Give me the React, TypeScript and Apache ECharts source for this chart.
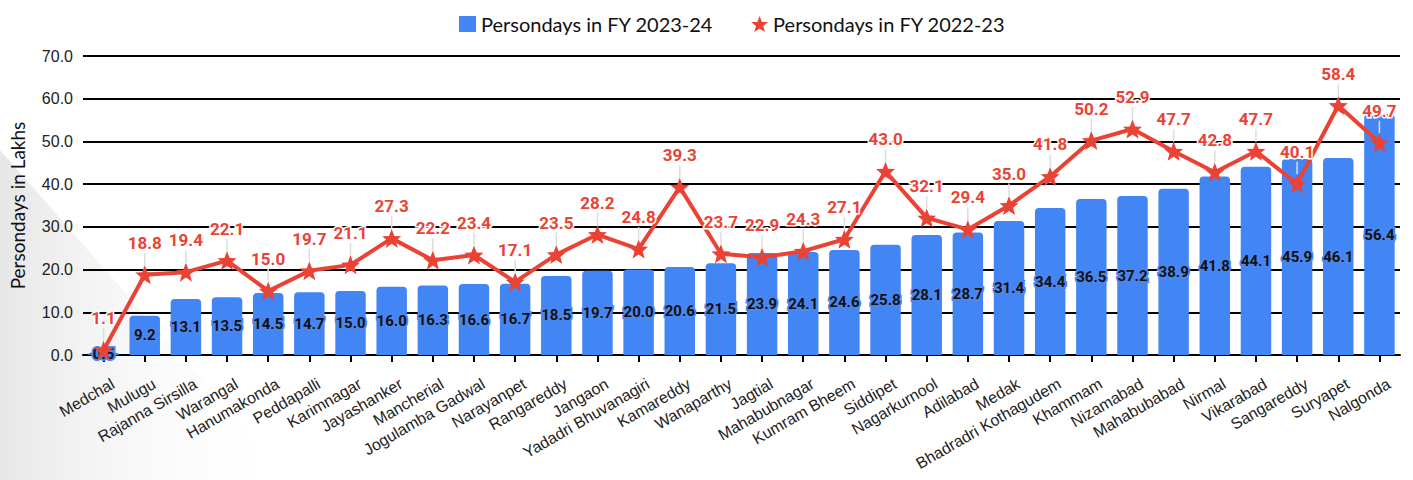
import React, { useEffect, useRef } from "react";
import * as echarts from "echarts";

const categories = [
  "Medchal", "Mulugu", "Rajanna Sirsilla", "Warangal", "Hanumakonda", "Peddapalli",
  "Karimnagar", "Jayashanker", "Mancherial", "Jogulamba Gadwal", "Narayanpet", "Rangareddy",
  "Jangaon", "Yadadri Bhuvanagiri", "Kamareddy", "Wanaparthy", "Jagtial", "Mahabubnagar",
  "Kumram Bheem", "Siddipet", "Nagarkurnool", "Adilabad", "Medak", "Bhadradri Kothagudem",
  "Khammam", "Nizamabad", "Mahabubabad", "Nirmal", "Vikarabad", "Sangareddy", "Suryapet", "Nalgonda",
];

const fy2324 = [
  0.5, 9.2, 13.1, 13.5, 14.5, 14.7, 15.0, 16.0, 16.3, 16.6, 16.7, 18.5, 19.7, 20.0, 20.6, 21.5,
  23.9, 24.1, 24.6, 25.8, 28.1, 28.7, 31.4, 34.4, 36.5, 37.2, 38.9, 41.8, 44.1, 45.9, 46.1, 56.4,
];

const fy2223 = [
  1.1, 18.8, 19.4, 22.1, 15.0, 19.7, 21.1, 27.3, 22.2, 23.4, 17.1, 23.5, 28.2, 24.8, 39.3, 23.7,
  22.9, 24.3, 27.1, 43.0, 32.1, 29.4, 35.0, 41.8, 50.2, 52.9, 47.7, 42.8, 47.7, 40.1, 58.4, 49.7,
];

const seriesNames = ["Persondays in FY 2023-24", "Persondays in FY 2022-23"];
const yAxisName = "Persondays in Lakhs";

const STAR = "path://M12,0.5 L15.2,8.6 L23.5,8.9 L17,14.2 L19.3,22.5 L12,17.8 L4.7,22.5 L7,14.2 L0.5,8.9 L8.8,8.6 Z";

export default function App() {
  const ref = useRef<HTMLDivElement>(null);
  useEffect(() => {
    if (!ref.current) return;
    const chart = echarts.init(ref.current, null, { renderer: "svg" });
    chart.setOption({
      animation: false,
      backgroundColor: "#fff",
      graphic: [
        {
          type: "polygon",
          silent: true,
          z: -10,
          shape: { points: [[0, 150], [290, 480], [0, 480]] },
          style: {
            fill: new echarts.graphic.LinearGradient(0, 0, 1, 0, [
              { offset: 0, color: "rgba(228,228,228,0.9)" },
              { offset: 1, color: "rgba(255,255,255,0)" },
            ]),
          },
        },
      ],
      legend: {
        top: 9,
        left: 454,
        itemGap: 38,
        itemWidth: 17,
        itemHeight: 16,
        textStyle: { fontFamily: "Lato", fontSize: 20, color: "#111" },
        data: [
          { name: seriesNames[0], icon: "rect", itemStyle: { color: "#4285f4" } },
          { name: seriesNames[1], icon: STAR, itemStyle: { color: "#ea4335" } },
        ],
      },
      grid: { left: 83, right: 13, top: 56, bottom: 125, containLabel: false, outerBoundsMode: "none" },
      xAxis: {
        type: "category",
        data: categories,
        axisLine: { lineStyle: { color: "#000", width: 2 } },
        axisTick: { show: true, alignWithLabel: true, length: 7, lineStyle: { color: "#000", width: 2 } },
        axisLabel: {
          interval: 0,
          rotate: 30,
          fontFamily: "Liberation Sans, Arial",
          fontSize: 16,
          color: "#222",
          margin: 11,
          verticalAlign: "top",
          lineHeight: 38,
        },
      },
      yAxis: {
        type: "value",
        min: 0,
        max: 70,
        interval: 10,
        name: yAxisName,
        nameLocation: "middle",
        nameGap: 56,
        nameTextStyle: { fontFamily: "Lato", fontSize: 19, color: "#111" },
        axisLine: { show: false },
        axisTick: { show: false },
        axisLabel: {
          formatter: (v: number) => v.toFixed(1),
          fontFamily: "Liberation Sans, Arial",
          fontSize: 16,
          color: "#222",
          margin: 10,
        },
        splitLine: { lineStyle: { color: "#000", width: 2 } },
      },
      series: [
        {
          name: seriesNames[0],
          type: "bar",
          data: fy2324,
          barWidth: "74%",
          itemStyle: { color: "#4285f4", borderRadius: [4, 4, 0, 0] },
          label: {
            show: true,
            position: "inside",
            formatter: (p: any) => Number(p.value).toFixed(1),
            fontFamily: "Roboto",
            fontWeight: "bold",
            fontSize: 15,
            color: "#111",
            textBorderColor: "#4a86f0",
            textBorderWidth: 4,
          },
        },
        {
          name: seriesNames[1],
          type: "line",
          data: fy2223,
          symbol: STAR,
          symbolSize: 19,
          lineStyle: { color: "#ea4335", width: 4 },
          itemStyle: { color: "#ea4335" },
          z: 5,
          label: {
            show: true,
            position: "top",
            distance: 4,
            formatter: (p: any) => Number(p.value).toFixed(1),
            fontFamily: "Roboto",
            fontWeight: "bold",
            fontSize: 17,
            color: "#ea4335",
            textBorderColor: "#fff",
            textBorderWidth: 3,
          },
          labelLayout: { dy: -10 },
          labelLine: { show: true, lineStyle: { color: "#ddd", width: 1.5 } },
        },
      ],
    });
    return () => chart.dispose();
  }, []);
  return (
    <div
      ref={ref}
      style={{ position: "fixed", left: 0, top: 0, width: 1413, height: 480 }}
    />
  );
}
